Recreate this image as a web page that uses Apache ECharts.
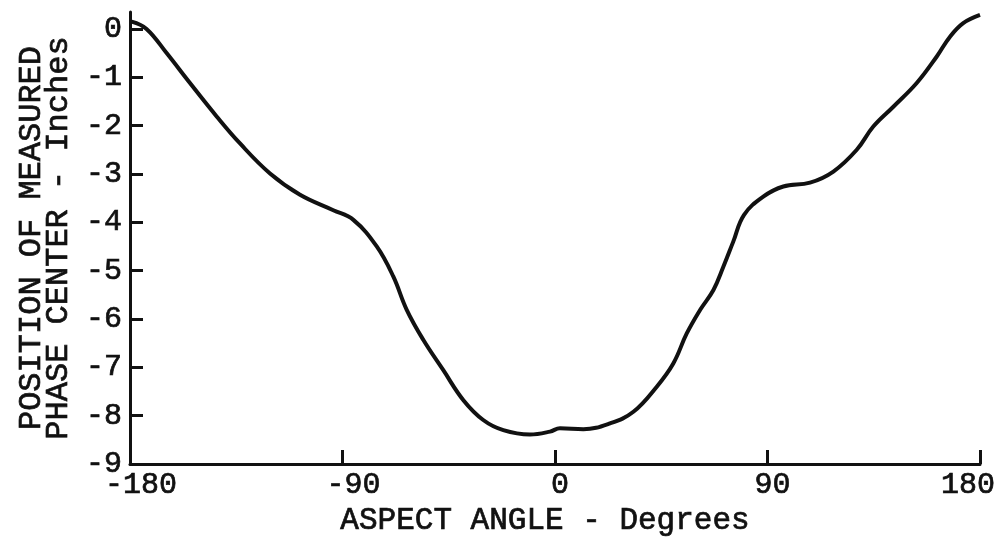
<!DOCTYPE html>
<html>
<head>
<meta charset="utf-8">
<script src="https://cdn.jsdelivr.net/npm/echarts@6/dist/echarts.min.js"></script>
<style>
html,body{margin:0;padding:0;background:#fff;}
#c{width:1001px;height:541px;}
</style>
</head>
<body>
<div id="c"></div>
<script>
const angles = [-179.3,-173,-164.5,-154.6,-143.3,-133.4,-120.7,-108,-93.9,-85.4,-75.5,-68.5,-62.8,-55.8,-47.3,-38.8,-30.4,-21.9,-10.6,-2.1,2.1,12,23.3,33.2,43.1,50.1,55.8,61.5,67.1,71.3,75.5,80,88.2,96.7,108,117.9,127.8,134.8,143.3,153.2,161.7,167.3,172.9,180];
const phaseCenter = [0.15,0.0,-0.50,-1.12,-1.81,-2.37,-2.99,-3.43,-3.75,-3.95,-4.50,-5.12,-5.81,-6.43,-7.06,-7.68,-8.09,-8.30,-8.39,-8.33,-8.26,-8.28,-8.16,-7.92,-7.40,-6.92,-6.30,-5.81,-5.40,-4.92,-4.40,-3.85,-3.47,-3.26,-3.18,-2.95,-2.50,-2.02,-1.61,-1.12,-0.57,-0.16,0.12,0.29];
const xTicks = [-180,-90,0,90,180];
const yTickLabels = [0,-1,-2,-3,-4,-5,-6,-7,-8,-9];
const xTitle = 'ASPECT ANGLE - Degrees';
const yTitle = 'POSITION OF MEASURED\nPHASE CENTER - Inches';

const FONT = '"Liberation Mono", "DejaVu Sans Mono", monospace';
const INK = '#111';
const txt = {color:INK,fontFamily:FONT,fontSize:30,textBorderColor:INK,textBorderWidth:0.7};
const chart = echarts.init(document.getElementById('c'), null, {renderer:'canvas'});
chart.setOption({
  animation:false,
  backgroundColor:'#ffffff',
  grid:{left:130,right:21,top:12,bottom:77,containLabel:false,outerBoundsMode:'none'},
  xAxis:{
    type:'value', min:-180, max:180, interval:90,
    axisLine:{show:true,onZero:false,lineStyle:{color:INK,width:3}},
    axisTick:{show:true,inside:true,length:14,lineStyle:{color:INK,width:3},customValues:xTicks},
    axisLabel:Object.assign({}, txt, {
      margin:6,
      customValues:xTicks,
      formatter:function(v){ return v<0 ? '{n|'+v+'}' : (v>=180 ? '{e|'+v+'}' : '{p|'+v+'}'); },
      rich:{
        n:Object.assign({}, txt, {padding:[0,0,0,22]}),
        p:Object.assign({}, txt, {padding:[0,0,0,10]}),
        e:Object.assign({}, txt, {padding:[0,24,0,0]})
      }
    }),
    splitLine:{show:false},
    name:xTitle, nameLocation:'middle', nameGap:38,
    nameTextStyle:Object.assign({}, txt, {fontSize:31,padding:[0,20,0,0]})
  },
  yAxis:{
    type:'value', min:-9, max:0.35, interval:1,
    axisLine:{show:true,onZero:false,lineStyle:{color:INK,width:3}},
    axisTick:{show:true,inside:true,length:13,lineStyle:{color:INK,width:3},customValues:[-8,-7,-6,-5,-4,-3,-2,-1,0]},
    axisLabel:Object.assign({}, txt, {margin:8,customValues:yTickLabels}),
    splitLine:{show:false},
    name:yTitle, nameLocation:'middle', nameRotate:90, nameGap:24,
    nameTextStyle:Object.assign({}, txt, {fontSize:32,lineHeight:27,align:'center'})
  },
  series:[{
    type:'line',
    data:angles.map((a,i)=>[a,phaseCenter[i]]),
    smooth:0.4,
    symbol:'none',
    lineStyle:{color:INK,width:4},
    clip:false
  }]
});
</script>
</body>
</html>
